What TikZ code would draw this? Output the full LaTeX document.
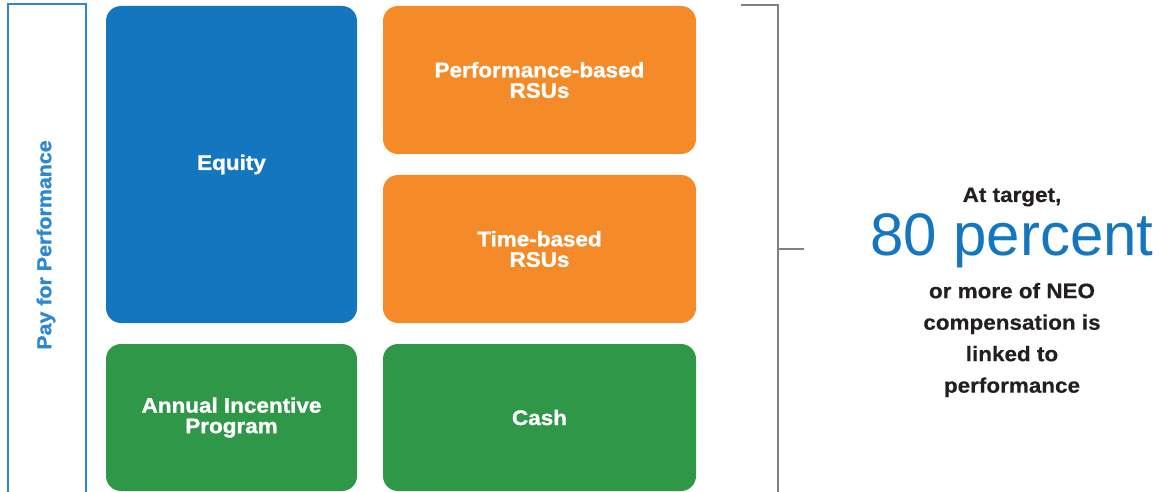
\documentclass[tikz,border=0pt]{standalone}
\usepackage{fontspec}
\setmainfont{Liberation Sans}[FakeStretch=1.07, BoldFeatures={FakeBold=1.2}]
\newfontfamily\plainfont{Liberation Sans}
\newfontfamily\sidefont{Liberation Sans}[FakeStretch=1.07, BoldFeatures={FakeBold=0.4}]
\definecolor{equityblue}{RGB}{19,118,191}
\definecolor{rsuorange}{RGB}{245,138,40}
\definecolor{cashgreen}{RGB}{46,151,72}
\definecolor{frameblue}{RGB}{45,136,210}
\definecolor{bracketgray}{RGB}{128,128,128}
\definecolor{textdark}{RGB}{35,31,32}
\begin{document}
\begin{tikzpicture}[x=1pt,y=-1pt,
		paybox/.style={rounded corners=15pt, inner sep=0pt, align=center,
			text=white, font=\bfseries\fontsize{21}{20.5}\selectfont}]
		\useasboundingbox (0,0) rectangle (1163,492);
		% frame on the left
		\draw[frameblue, line width=2pt] (8,493) -- (8,4) -- (86,4) -- (86,493);
		\node[rotate=90, text=frameblue,
			font=\bfseries\fontsize{20}{20}\selectfont
		] (pay) at (46,245) {Pay for Performance};
		% the five boxes
		\node[paybox, fill=equityblue,
			minimum width=251pt, minimum height=317pt
		] (equity) at (231.5,164.5) {Equity};
		\node[paybox, fill=rsuorange,
			minimum width=313pt, minimum height=148pt
		] (perf) at (539.5,80) {Performance-based\\RSUs};
		\node[paybox, fill=rsuorange,
			minimum width=313pt, minimum height=148pt
		] (time) at (539.5,249) {Time-based\\RSUs};
		\node[paybox, fill=cashgreen,
			minimum width=251pt, minimum height=147pt
		] (aip) at (231.5,417.5) {Annual Incentive\\Program};
		\node[paybox, fill=cashgreen,
			minimum width=313pt, minimum height=147pt
		] (cash) at (539.5,417.5) {Cash};
		% bracket
		\coordinate (brtop) at (741,5);
		\coordinate (brmid) at (804,249);
		\draw[bracketgray, line width=1.5pt]
			(brtop) -- (778,5) -- (778,493);
		\draw[bracketgray, line width=1.5pt] (778,249) -- (brmid);
		% text on the right
		\node[anchor=base, text=textdark,
			font=\sidefont\bfseries\fontsize{21}{21}\selectfont
		] (target) at (1012,202) {At target,};
		\node[anchor=base, text=equityblue,
			font=\plainfont\fontsize{60}{60}\selectfont
		] (pct) at (1012,255) {80 percent};
		\node[align=center, text=textdark,
			font=\sidefont\bfseries\fontsize{21}{31.5}\selectfont
		] (linked) at (1012,340) {or more of NEO\\compensation is\\linked to\\performance};

	\end{tikzpicture}
\end{document}
